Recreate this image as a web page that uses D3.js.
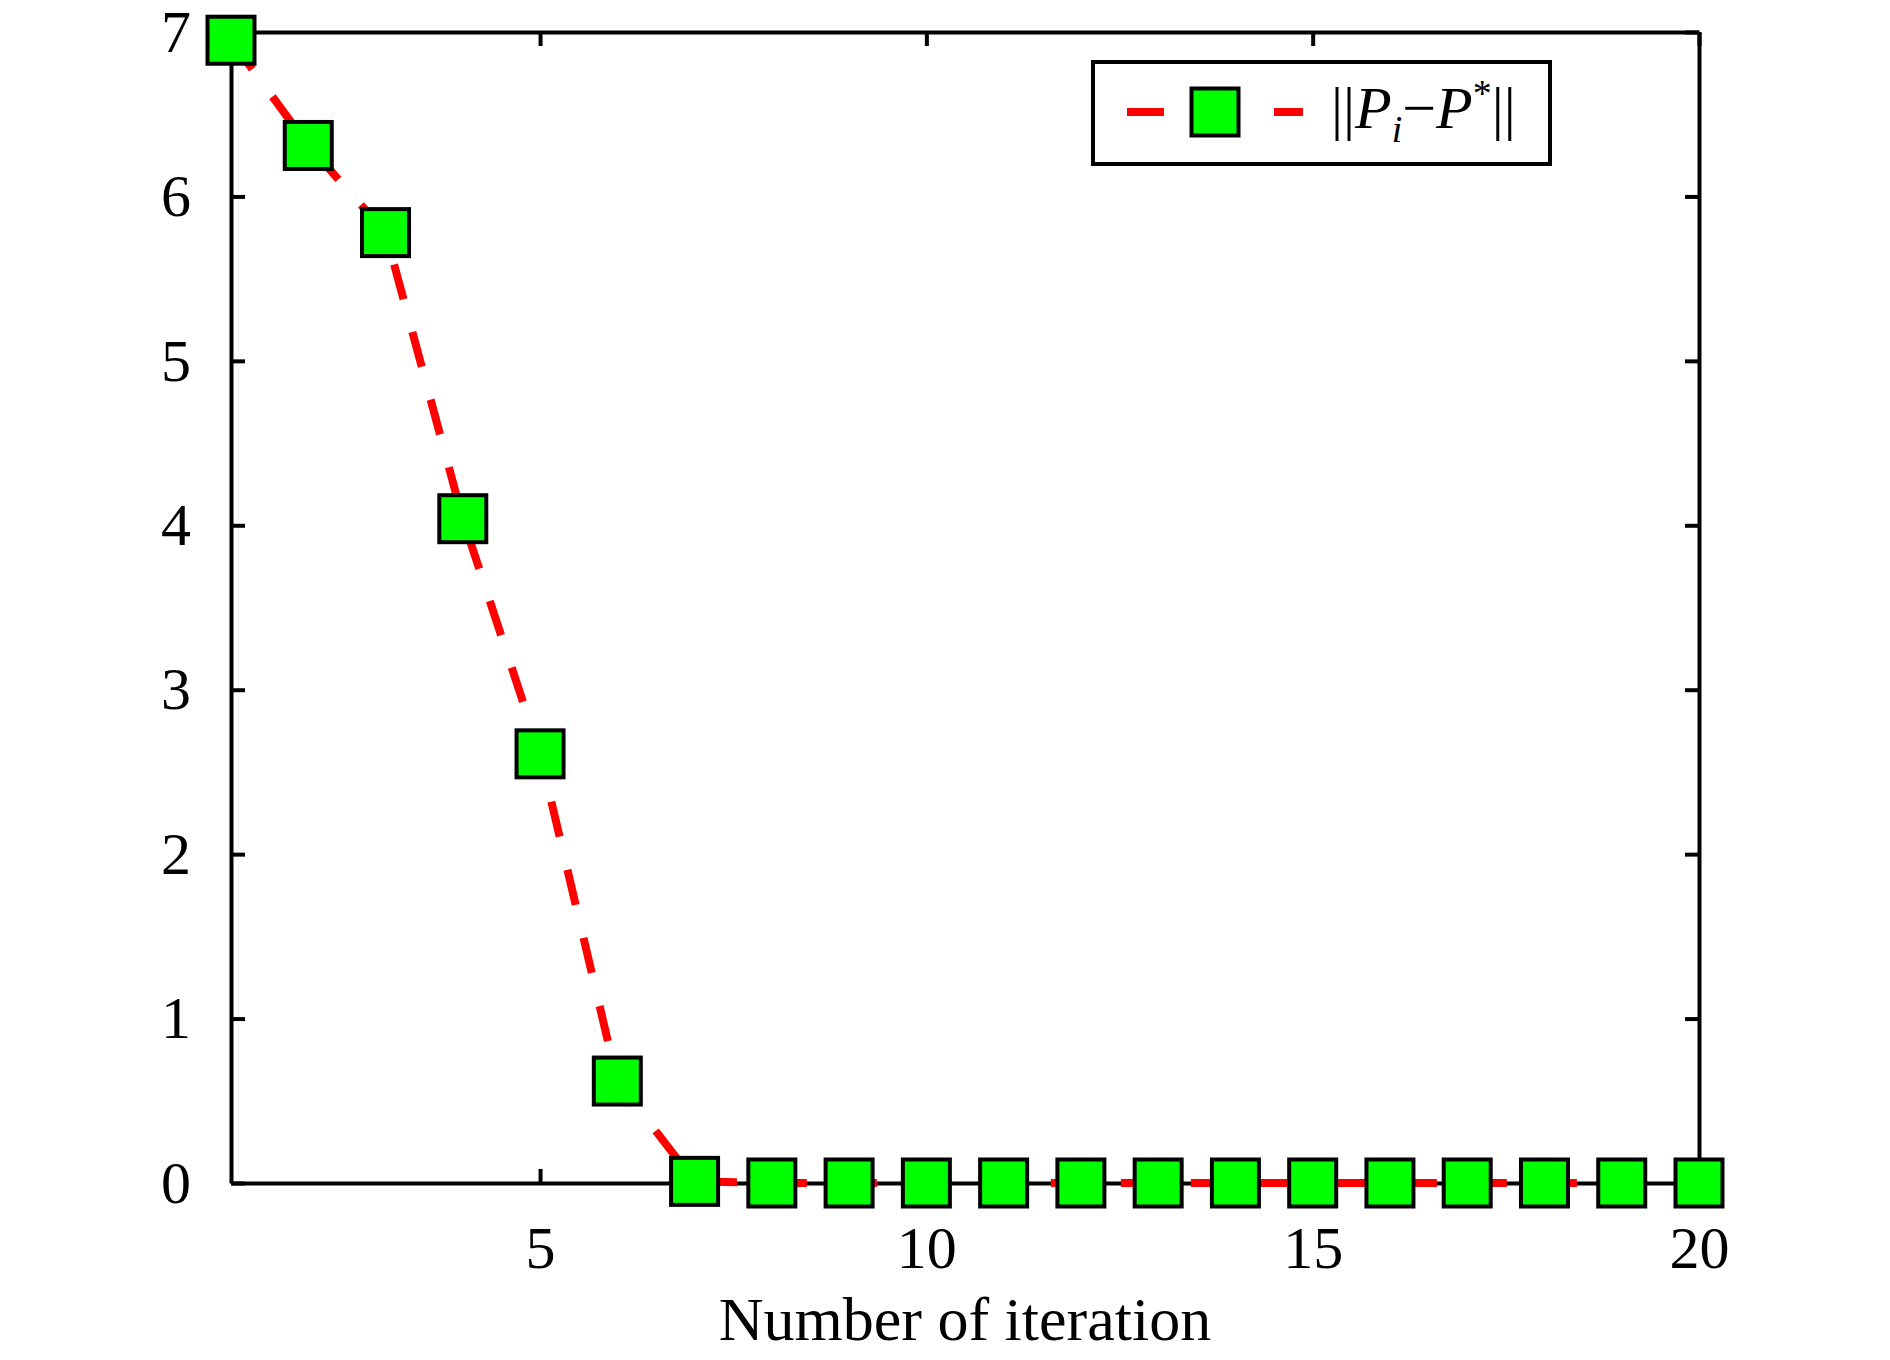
<!DOCTYPE html>
<html>
<head>
<meta charset="utf-8">
<script src="https://cdn.jsdelivr.net/npm/d3@7"></script>
<style>
  body { margin: 0; background: #fff; }
  svg text { font-family: "Liberation Serif", "Times New Roman", serif; fill: #000; }
</style>
</head>
<body>
<div id="graph"></div>
<script>
const iterations = [1, 2, 3, 4, 5, 6, 7, 8, 9, 10, 11, 12, 13, 14, 15, 16, 17, 18, 19, 20];
const errorNorm = [6.95, 6.31, 5.78, 4.04, 2.61, 0.62, 0.01, 0, 0, 0, 0, 0, 0, 0, 0, 0, 0, 0, 0, 0];
const xTicks = [5, 10, 15, 20];
const yTicks = [0, 1, 2, 3, 4, 5, 6, 7];
const xLabel = 'Number of iteration';

const width = 1890;
const height = 1360;
const plotLeft = 231, plotRight = 1699, plotTop = 32, plotBottom = 1183;
const tickLen = 14;
const markerSide = 47;

const xScale = d3.scaleLinear()
    .domain([1, 20])
    .range([plotLeft, plotRight]);

const yScale = d3.scaleLinear()
    .domain([0, 7])
    .range([plotBottom, plotTop]);

const svg = d3.select('#graph')
    .append('svg')
    .attr('width', width)
    .attr('height', height);

svg.append('rect')
    .attr('width', width)
    .attr('height', height)
    .attr('fill', '#fff');

// box axes with inward ticks
const styleAxis = (g) => {
    g.selectAll('path.domain').attr('stroke', '#000').attr('stroke-width', 4);
    g.selectAll('.tick line').attr('stroke', '#000').attr('stroke-width', 4);
    g.selectAll('.tick text')
        .attr('font-size', 60)
        .attr('font-family', '"Liberation Serif", serif');
};

svg.append('g')
    .attr('transform', `translate(0, ${plotBottom})`)
    .call(d3.axisBottom(xScale).tickValues(xTicks).tickFormat(d3.format('d'))
        .tickSizeInner(-tickLen).tickSizeOuter(0).tickPadding(42))
    .call(styleAxis);

svg.append('g')
    .attr('transform', `translate(0, ${plotTop})`)
    .call(d3.axisTop(xScale).tickValues(xTicks).tickSizeInner(-tickLen).tickSizeOuter(0).tickFormat(''))
    .call(styleAxis);

svg.append('g')
    .attr('transform', `translate(${plotLeft}, 0)`)
    .call(d3.axisLeft(yScale).tickValues(yTicks).tickFormat(d3.format('d'))
        .tickSizeInner(-tickLen).tickSizeOuter(0).tickPadding(40))
    .call(styleAxis);

svg.append('g')
    .attr('transform', `translate(${plotRight}, 0)`)
    .call(d3.axisRight(yScale).tickValues(yTicks).tickSizeInner(-tickLen).tickSizeOuter(0).tickFormat(''))
    .call(styleAxis);

// axis title
svg.append('text')
    .attr('x', (plotLeft + plotRight) / 2)
    .attr('y', 1340)
    .attr('text-anchor', 'middle')
    .attr('font-size', 62)
    .text(xLabel);

const data = iterations.map((d, i) => ({ x: d, y: errorNorm[i] }));

const line = d3.line()
    .x(d => xScale(d.x))
    .y(d => yScale(d.y));

svg.append('path')
    .datum(data)
    .attr('d', line)
    .attr('fill', 'none')
    .attr('stroke', '#ff0000')
    .attr('stroke-width', 8)
    .attr('stroke-dasharray', '36,34');

svg.selectAll('rect.marker')
    .data(data)
    .enter()
    .append('rect')
        .attr('class', 'marker')
        .attr('x', d => xScale(d.x) - markerSide / 2)
        .attr('y', d => yScale(d.y) - markerSide / 2)
        .attr('width', markerSide)
        .attr('height', markerSide)
        .attr('fill', '#00ff00')
        .attr('stroke', '#000')
        .attr('stroke-width', 4);

// legend
const legend = svg.append('g');

legend.append('rect')
    .attr('x', 1093)
    .attr('y', 62)
    .attr('width', 457)
    .attr('height', 102)
    .attr('fill', '#fff')
    .attr('stroke', '#000')
    .attr('stroke-width', 4);

legend.append('line')
    .attr('x1', 1127)
    .attr('x2', 1303)
    .attr('y1', 112)
    .attr('y2', 112)
    .attr('stroke', '#ff0000')
    .attr('stroke-width', 8)
    .attr('stroke-dasharray', '37,110');

legend.append('rect')
    .attr('x', 1215 - markerSide / 2)
    .attr('y', 112 - markerSide / 2)
    .attr('width', markerSide)
    .attr('height', markerSide)
    .attr('fill', '#00ff00')
    .attr('stroke', '#000')
    .attr('stroke-width', 4);

const label = legend.append('text')
    .attr('x', 1331)
    .attr('y', 128)
    .attr('font-size', 60);

label.append('tspan').text('||');
label.append('tspan').attr('font-style', 'italic').text('P');
label.append('tspan').attr('font-style', 'italic').attr('font-size', 38).attr('dy', 14).text('i');
label.append('tspan').attr('dy', -14).text('\u2212');
label.append('tspan').attr('font-style', 'italic').text('P');
label.append('tspan').attr('font-size', 38).attr('dy', -22).text('*');
label.append('tspan').attr('dy', 22).text('||');
</script>
</body>
</html>
